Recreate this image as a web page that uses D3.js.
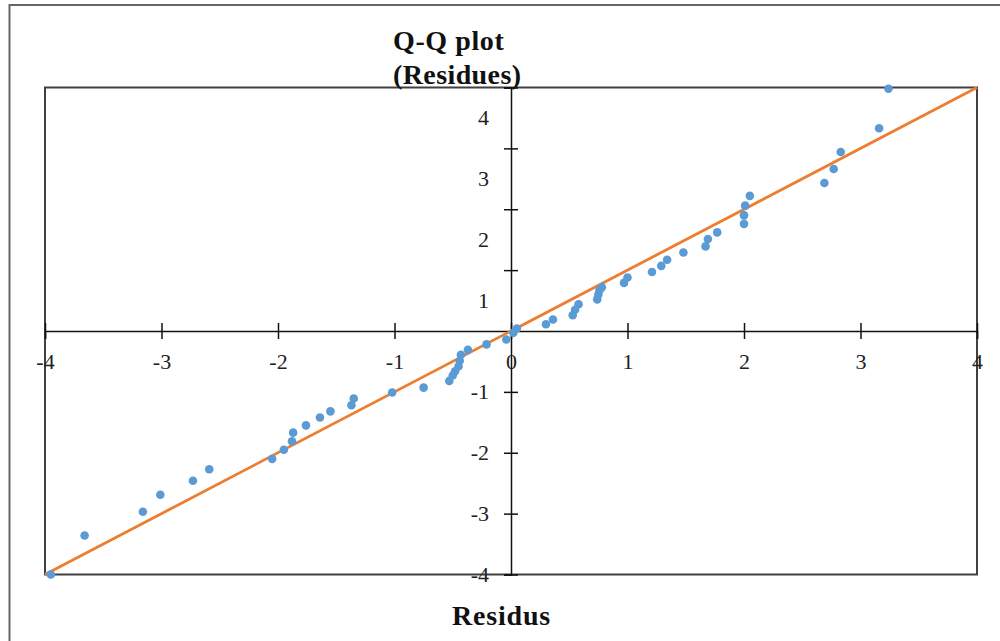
<!DOCTYPE html>
<html>
<head>
<meta charset="utf-8">
<script src="https://cdn.jsdelivr.net/npm/d3@7"></script>
<style>
  body { margin: 0; background: #fff; }
  text { font-family: "Liberation Serif", "Times New Roman", serif; }
</style>
</head>
<body>
<script>
// theoretical quantiles (x) and residuals (y)
let Quantiles = [-3.95, -3.66, -3.16, -3.01, -2.73, -2.59, -2.05, -1.95, -1.88, -1.87,
    -1.76, -1.64, -1.55, -1.37, -1.35, -1.02, -0.75, -0.53, -0.50, -0.48,
    -0.45, -0.44, -0.43, -0.37, -0.21, -0.04, 0.02, 0.05, 0.30, 0.36,
    0.53, 0.55, 0.58, 0.74, 0.75, 0.76, 0.78, 0.97, 1.00, 1.21,
    1.29, 1.34, 1.48, 1.67, 1.69, 1.77, 2.00, 2.00, 2.01, 2.05,
    2.69, 2.77, 2.83, 3.16, 3.24];
let Residues = [-4.00, -3.36, -2.97, -2.69, -2.46, -2.27, -2.10, -1.95, -1.81, -1.67,
    -1.55, -1.42, -1.32, -1.22, -1.11, -1.01, -0.93, -0.82, -0.73, -0.66,
    -0.58, -0.49, -0.39, -0.31, -0.22, -0.14, -0.03, 0.04, 0.11, 0.19,
    0.26, 0.35, 0.44, 0.52, 0.60, 0.67, 0.72, 0.79, 0.88, 0.97,
    1.07, 1.17, 1.29, 1.39, 1.51, 1.62, 1.76, 1.90, 2.06, 2.22,
    2.43, 2.66, 2.94, 3.33, 3.98];
let RefLine = [-4, 4];
let XTicks = [-4, -3, -2, -1, 0, 1, 2, 3, 4];
let YTicks = [-4, -3, -2, -1, 1, 2, 3, 4];

let SvgWidth = 1000;
let SvgHeight = 641;

let Svg = d3.select("body")
    .append("svg")
    .attr("width", SvgWidth)
    .attr("height", SvgHeight)

// outer chart frame (runs off the right and bottom edges)
Svg.append("rect")
    .attr("x", 9.5)
    .attr("y", 5)
    .attr("width", 1100)
    .attr("height", 800)
    .attr("fill", "none")
    .attr("stroke", "#666")
    .attr("stroke-width", 2)

let xScale = d3.scaleLinear().domain([-4, 4]).range([45, 977]);
let yScale = d3.scaleLinear().domain([-4, 4]).range([574.5, 87.5]);

// plot area border
Svg.append("rect")
    .attr("x", xScale(-4))
    .attr("y", yScale(4))
    .attr("width", xScale(4) - xScale(-4))
    .attr("height", yScale(-4) - yScale(4))
    .attr("fill", "none")
    .attr("stroke", "#404040")
    .attr("stroke-width", 2)

// plain hyphen minus, like the source
let TickFmt = d => String(d);

let BottomAxis = d3.axisBottom(xScale)
    .tickValues(XTicks)
    .tickFormat(TickFmt)
    .tickSize(8)
    .tickPadding(14);

let LeftAxis = d3.axisLeft(yScale)
    .tickValues(YTicks)
    .tickFormat(TickFmt)
    .tickSize(7)
    .tickPadding(15);

let xAxisG = Svg.append("g")
    .attr("transform", `translate(0,${yScale(0)})`)
    .call(BottomAxis)

let yAxisG = Svg.append("g")
    .attr("transform", `translate(${xScale(0)},0)`)
    .call(LeftAxis)

// crossing tick marks
xAxisG.selectAll(".tick line").attr("y1", -8).attr("y2", 8)
yAxisG.selectAll(".tick line").attr("x1", -7).attr("x2", 7)

// positive y labels sit half a unit below their tick, as in the source
let HalfUnit = (yScale(0) - yScale(1)) / 2;
yAxisG.selectAll(".tick text")
    .attr("y", d => d > 0 ? HalfUnit : 0)

Svg.selectAll(".domain")
    .attr("stroke", "#111")
    .attr("stroke-width", 1.5)
Svg.selectAll(".tick line")
    .attr("stroke", "#111")
    .attr("stroke-width", 1.5)
Svg.selectAll(".tick text")
    .attr("fill", "#222")
    .style("font-size", "22px")
    .style("font-family", "'Liberation Serif', serif")

// reference line y = x
Svg.append("line")
    .attr("x1", xScale(RefLine[0]))
    .attr("y1", yScale(RefLine[0]))
    .attr("x2", xScale(RefLine[1]))
    .attr("y2", yScale(RefLine[1]))
    .attr("stroke", "#ED7D31")
    .attr("stroke-width", 2.8)

Svg.append("g")
    .selectAll("circle")
    .data(Quantiles)
    .enter()
    .append("circle")
    .attr("cx", d => xScale(d))
    .attr("cy", (d, i) => yScale(Residues[i]))
    .attr("r", 4.3)
    .attr("fill", "#5B9BD5")

// titles
Svg.append("text")
    .attr("x", 393)
    .attr("y", 50)
    .attr("font-size", 28)
    .attr("font-weight", "bold")
    .attr("letter-spacing", 0.6)
    .attr("fill", "#111")
    .text("Q-Q plot")

Svg.append("text")
    .attr("x", 393)
    .attr("y", 84)
    .attr("font-size", 28)
    .attr("font-weight", "bold")
    .attr("letter-spacing", 0.4)
    .attr("fill", "#111")
    .text("(Residues)")

Svg.append("text")
    .attr("x", 501.5)
    .attr("y", 625)
    .attr("text-anchor", "middle")
    .attr("font-size", 28)
    .attr("font-weight", "bold")
    .attr("letter-spacing", 0.8)
    .attr("fill", "#111")
    .text("Residus")
</script>
</body>
</html>
